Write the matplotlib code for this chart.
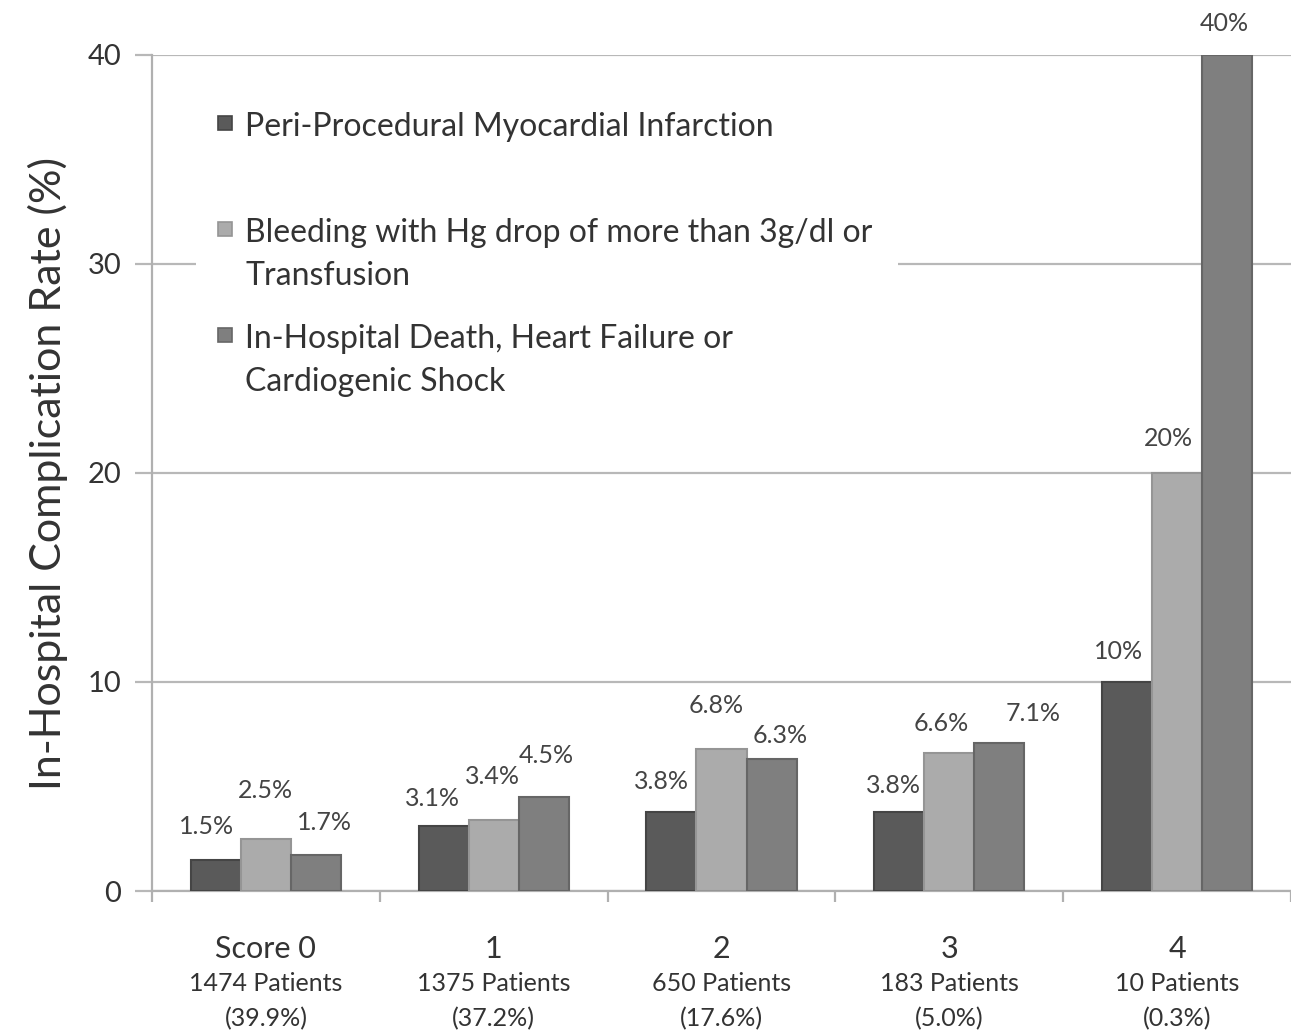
import matplotlib.pyplot as plt
import matplotlib.patches as mpatches
import numpy as np

plt.rcParams['font.family'] = ['Lato', 'DejaVu Sans']

scores = ['Score 0', '1', '2', '3', '4']
patients = ['1474 Patients\n(39.9%)', '1375 Patients\n(37.2%)', '650 Patients\n(17.6%)',
            '183 Patients\n(5.0%)', '10 Patients\n(0.3%)']
series = ['Peri-Procedural Myocardial Infarction',
          'Bleeding with Hg drop of more than 3g/dl or\nTransfusion',
          'In-Hospital Death, Heart Failure or\nCardiogenic Shock']
mi = [1.5, 3.1, 3.8, 3.8, 10]
bleeding = [2.5, 3.4, 6.8, 6.6, 20]
death = [1.7, 4.5, 6.3, 7.1, 40]
value_labels = [['1.5%', '3.1%', '3.8%', '3.8%', '10%'],
                ['2.5%', '3.4%', '6.8%', '6.6%', '20%'],
                ['1.7%', '4.5%', '6.3%', '7.1%', '40%']]

colors = ['#5a5a5a', '#ababab', '#7f7f7f']
edges = ['#454545', '#959595', '#666666']
# label offsets (points) -- the source chart nudges a few labels around
label_dx = [[-7, -8, -7, -4, -6], [0, -1, -4, -6, -6], [6, 2, 6, 24, -2]]
label_dy = [[24, 20, 22, 19, 22], [35, 31, 31, 21, 25], [24, 30, 17, 21, 23]]

W, H = 1291, 1032
fig = plt.figure(figsize=(W / 100, H / 100), dpi=100)
ax = fig.add_axes([152 / W, 1 - 891 / H, 1139 / W, 836 / H])


def fx(px):
    return px / W


def fy(py):
    return 1 - py / H


x = np.arange(len(scores))
w = 0.22
for k, vals in enumerate([mi, bleeding, death]):
    b = ax.bar(x + (k - 1) * w, vals, w, color=colors[k], edgecolor=edges[k],
               linewidth=1.5, zorder=3)
    for i, rect in enumerate(b):
        ax.annotate(value_labels[k][i], (rect.get_x() + rect.get_width() / 2, rect.get_height()),
                    xytext=(label_dx[k][i], label_dy[k][i]), textcoords='offset points',
                    ha='center', va='center', fontsize=18, color='#444444',
                    annotation_clip=False)

ax.set_ylim(0, 40)
ax.set_xlim(-0.5, -0.5 + 1139 / 228.6)
ax.set_yticks([0, 10, 20, 30, 40])
ax.yaxis.grid(True, color='#b8b8b8', linewidth=1.6, zorder=0)
ax.set_axisbelow(True)
for s in ['top', 'right']:
    ax.spines[s].set_visible(False)
for s in ['left', 'bottom']:
    ax.spines[s].set_color('#b0b0b0')
    ax.spines[s].set_linewidth(1.6)
ax.tick_params(axis='y', length=12, width=1.6, color='#b8b8b8', labelsize=21,
               labelcolor='#333333', pad=10)

# category separators on the x axis
ax.set_xticks(np.arange(len(scores) + 1) - 0.5, minor=True)
ax.set_xticks(x)
ax.set_xticklabels(scores, fontsize=22, color='#333333')
ax.tick_params(axis='x', which='major', length=0, pad=32)
ax.tick_params(axis='x', which='minor', length=8, width=1.6, color='#b0b0b0', direction='out')
for i in x:
    ax.annotate(patients[i], (i, 0), xycoords=('data', 'axes fraction'),
                xytext=(0, -58), textcoords='offset points', ha='center', va='top',
                fontsize=18, color='#333333', linespacing=1.67, annotation_clip=False)

ax.set_ylabel('In-Hospital Complication Rate (%)', fontsize=31, color='#333333', labelpad=14)

# legend laid out like the spreadsheet one: entries on a fixed pitch, top aligned
fig.add_artist(mpatches.Rectangle((fx(196), fy(405)), fx(898) - fx(196), fy(95) - fy(405),
                                  transform=fig.transFigure, facecolor='white',
                                  edgecolor='none', zorder=2))
for k, name in enumerate(series):
    top = 112 + 106 * k
    fig.add_artist(mpatches.Rectangle((fx(218), fy(top + 18)), fx(14), 14 / H,
                                      transform=fig.transFigure, facecolor=colors[k],
                                      edgecolor=edges[k], linewidth=1.2, zorder=3))
    fig.text(fx(245), fy(top), name, fontsize=23, color='#333333', va='top', ha='left',
             linespacing=1.55, zorder=4)

fig.savefig('out.png', dpi=100)
